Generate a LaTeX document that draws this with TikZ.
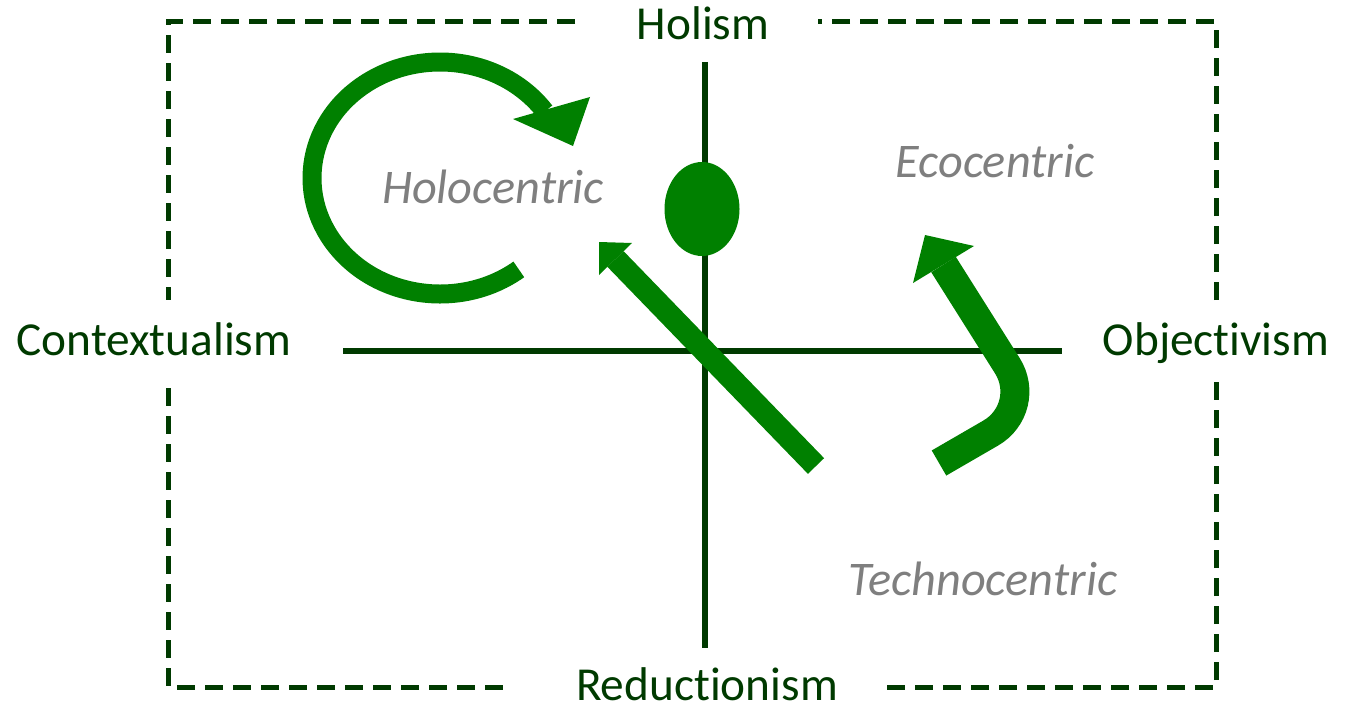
\documentclass[tikz,border=0pt]{standalone}
\usepackage{fontspec}
\setmainfont{Carlito}[Ligatures=NoCommon]
\usetikzlibrary{shapes.geometric}
\definecolor{dkg}{RGB}{0,58,0}
\definecolor{arg}{RGB}{0,128,0}
\definecolor{lbl}{RGB}{127,127,127}
\begin{document}
\begin{tikzpicture}[x=1bp,y=-1bp,
  font=\fontsize{47.5}{56}\selectfont,
  axislabel/.style={text=dkg, inner sep=0pt, anchor=base},
  quadlabel/.style={text=lbl, inner sep=0pt, anchor=base, font=\fontsize{48.5}{56}\selectfont\itshape},
  frame/.style={draw=dkg, line width=5bp, dash pattern=on 18bp off 10bp},
  axisline/.style={draw=dkg, line width=6bp},
  fatarrow/.style={draw=arg, line cap=butt}
]
\useasboundingbox (0,0) rectangle (1348,712);

% dashed frame
\draw[frame] (575,22) -- (168,22) -- (168,300);
\draw[frame] (168,388) -- (168,687) -- (508,687);
\draw[frame] (887,687) -- (1216,687) -- (1216,375);
\draw[frame] (1216,300) -- (1216,22) -- (818,22);

% axes
\coordinate (vtop) at (705,62);
\coordinate (vbot) at (705,648);
\coordinate (hl) at (343,351);
\coordinate (hr) at (1062,351);
\draw[axisline] (vtop) -- (vbot);
\draw[axisline] (hl) -- (hr);

% axis labels
\node[axislabel] (hol) at (703,40) {Holism};
\node[axislabel] (red) at (707,700) {Reductionism};
\node[axislabel] (con) at (154,355) {Contextualism};
\node[axislabel] (obj) at (1216,355) {Objectivism};

% quadrant labels
\node[quadlabel] (holo) at (493,203) {Holocentric};
\node[quadlabel] (eco) at (995,177) {Ecocentric};
\node[quadlabel] (tech) at (983,595) {Technocentric};

% dot
\node[ellipse, fill=arg, minimum width=75bp, minimum height=94bp, inner sep=0pt] (dot) at (702,209) {};

% circular arrow
\coordinate (cc) at (440,178);
\draw[fatarrow, line width=19bp] (cc) ++(52:128 and 116) arc[start angle=52, end angle=325, x radius=128, y radius=116];
\fill[arg] (513,119) -- (590,97) -- (573,146) -- cycle;

% straight diagonal arrow
\coordinate (s1) at (816,466);
\coordinate (s2) at (615.5,259);
\draw[fatarrow, line width=22.5bp] (s1) -- (s2);
\fill[arg] (599,242) -- (632,243) -- (599,275) -- cycle;

% hook arrow
\coordinate (h1) at (939,463);
\coordinate (h2) at (1034,408);
\coordinate (h3) at (943.5,264.5);
\draw[fatarrow, line width=29bp, rounded corners=50bp] (h1) -- (h2) -- (h3);
\fill[arg] (925,235) -- (974,246) -- (913,283) -- cycle;
\end{tikzpicture}
\end{document}
